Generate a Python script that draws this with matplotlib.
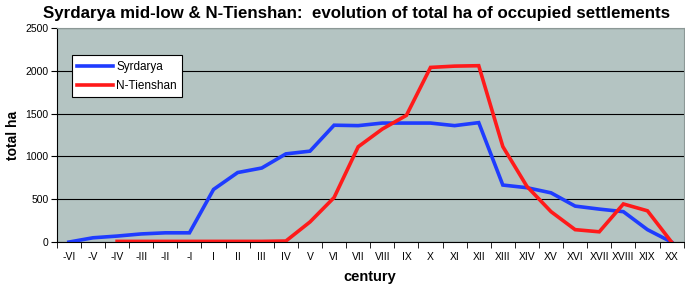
import matplotlib.pyplot as plt
import numpy as np

centuries = ["-VI", "-V", "-IV", "-III", "-II", "-I", "I", "II", "III", "IV", "V", "VI",
             "VII", "VIII", "IX", "X", "XI", "XII", "XIII", "XIV", "XV", "XVI", "XVII",
             "XVIII", "XIX", "XX"]

syrdarya = [0, 50, 70, 95, 108, 108, 615, 812, 865, 1030, 1062, 1365,
            1360, 1390, 1390, 1390, 1360, 1395, 666, 635, 575, 420, 385, 355, 145, 0]

# N-Tienshan starts at -IV
tienshan = [np.nan, np.nan, 8, 8, 8, 8, 8, 8, 8, 12, 235, 520,
            1113, 1320, 1480, 2040, 2055, 2060, 1115, 650, 355, 145, 120, 445, 365, 0]


def main():
    plt.rcParams['font.family'] = ['Liberation Sans', 'DejaVu Sans']
    fig = plt.figure(figsize=(6.85, 2.92), dpi=100)
    ax = fig.add_axes([0.083, 0.171, 0.915, 0.733])
    ax.set_facecolor('#b4c4c2')

    x = np.arange(len(centuries))
    ax.plot(x, syrdarya, color='#1f3cff', lw=2.6, label='Syrdarya', solid_joinstyle='miter')
    ax.plot(x, tienshan, color='#ff1a1a', lw=2.6, label='N-Tienshan', solid_joinstyle='miter')

    ax.set_xlim(-0.5, len(centuries) - 0.5)
    ax.set_ylim(0, 2500)
    ax.set_yticks(np.arange(0, 2501, 500))
    ax.yaxis.grid(True, color='black', lw=0.8)
    ax.set_axisbelow(True)

    ax.set_xticks(x)
    ax.set_xticklabels(centuries, fontsize=7.5)
    ax.set_xticks(np.arange(-0.5, len(centuries)), minor=True)
    ax.tick_params(axis='x', which='major', length=0, pad=7)
    ax.tick_params(axis='x', which='minor', length=4, direction='out')
    ax.tick_params(axis='y', labelsize=7.5, length=4, pad=2)

    for side in ['top', 'right']:
        ax.spines[side].set_color('#8c9896')
    ax.spines['left'].set_color('black')
    ax.spines['bottom'].set_color('black')

    ax.set_ylabel('total ha', fontsize=10, fontweight='bold')
    ax.set_xlabel('century', fontsize=10.5, fontweight='bold', labelpad=6)
    fig.text(0.52, 0.955, 'Syrdarya mid-low & N-Tienshan:  evolution of total ha of occupied settlements',
             ha='center', va='center', fontsize=12.2, fontweight='bold')

    leg = ax.legend(loc='upper left', bbox_to_anchor=(0.015, 0.9), fontsize=8.5,
                    fancybox=False, edgecolor='black', framealpha=1, handlelength=3.0,
                    borderpad=0.45, labelspacing=0.6, handletextpad=0.3)
    leg.get_frame().set_linewidth(0.8)

    fig.savefig('out.png', dpi=100)


if __name__ == "__main__":
    main()
